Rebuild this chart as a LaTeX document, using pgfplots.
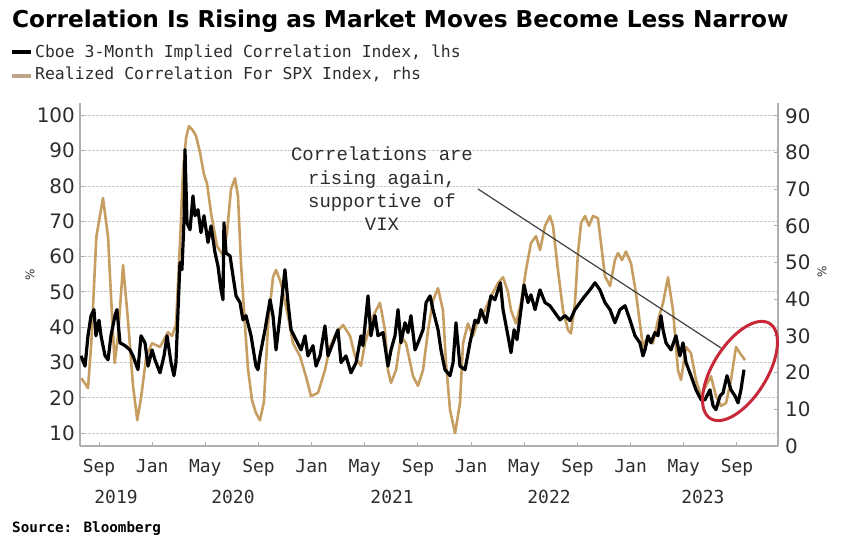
\documentclass[border=0pt]{standalone}
\usepackage{pgfplots}
\pgfplotsset{compat=1.18}
\usepackage{fontspec}
\setmainfont{DejaVu Sans}
\newfontfamily\ttlfont{DejaVu Sans}
\newfontfamily\legfont{DejaVu Sans Mono}
\newfontfamily\numfont{DejaVu Sans}
\newfontfamily\annfont{Liberation Mono}
\definecolor{gold}{RGB}{198,158,98}
\definecolor{goldleg}{RGB}{190,165,135}
\definecolor{gridc}{RGB}{205,205,205}
\definecolor{axc}{RGB}{175,175,175}
\definecolor{ellred}{RGB}{200,40,55}
\definecolor{txt}{RGB}{45,45,45}

\pgfplotstableread{
m v
6.67 18.5
7.17 15.8
7.42 28
7.80 57
8.30 67.6
8.68 57
8.93 39
9.18 22.6
9.43 30
9.81 49.3
10.18 34.3
10.56 16.4
10.88 7
11.18 13.6
11.56 24.5
11.99 28
12.59 27
13.19 31
13.49 30
13.79 33
14.09 55
14.32 75
14.55 84
14.77 87.2
15.07 86
15.30 84.5
15.60 80
15.90 74
16.13 71.5
16.43 63.5
16.88 54.5
17.33 52
17.63 58
17.93 70
18.23 73
18.46 68
18.68 50
18.98 33
19.21 21
19.51 12.5
19.81 9
20.11 7
20.41 12
20.72 33
21.09 46
21.32 48
21.69 44.4
22.22 35.4
22.60 28
23.12 24.5
23.57 19
23.95 13.6
24.48 14.5
25.00 20.7
25.38 27
25.83 30.7
26.36 33
26.89 30
27.26 24.5
27.71 21.8
28.01 28
28.62 35.4
29.14 39
29.52 31.6
29.74 20.7
29.97 17.2
30.35 20.7
30.72 30
31.10 28
31.63 19
32.00 16.4
32.38 20.7
32.76 31.6
33.13 39.7
33.51 43
33.88 37
34.11 22.6
34.41 9.8
34.79 3.5
35.16 11.7
35.39 28
35.76 33.4
36.14 30
36.52 34.3
37.04 37
37.49 40.8
38.02 44.4
38.40 46
38.77 42
39.00 37
39.37 33.4
39.75 39
40.13 48
40.50 55.3
40.88 57.2
41.18 53.4
41.56 60
41.93 62.7
42.16 60
42.53 48
42.91 37
43.29 31.6
43.51 30.7
43.81 39
44.04 52.6
44.27 60.8
44.57 62.7
44.87 60
45.17 62.7
45.54 62.1
45.77 55.3
46.07 46.3
46.45 43.6
46.82 50.7
47.05 52.6
47.35 50.7
47.65 53
48.03 49.8
48.40 41.7
48.93 27
49.31 30
49.68 28
50.06 34.3
50.44 39
50.81 46
51.19 37
51.56 20.7
51.79 18
52.17 27
52.54 25.3
52.92 18
53.30 13.6
53.67 16.4
54.05 19
54.42 13.6
54.80 10.9
55.18 11.7
55.55 18
55.93 27
56.23 25.3
56.61 23.4
}\realized

\pgfplotstableread{
m v
6.65 31.9
6.95 29
7.17 37.6
7.40 43.3
7.62 45
7.77 37.6
8.00 42
8.15 37.6
8.45 32
8.68 30.8
8.90 37.6
9.20 43.3
9.35 45
9.58 35.6
9.96 34.8
10.33 33.6
10.56 31.9
10.93 28
11.16 37.6
11.46 35.6
11.69 29
11.99 33.6
12.21 30.8
12.59 27.1
12.89 31.9
13.12 37.6
13.42 30
13.64 26.3
13.79 30
14.09 58.3
14.24 56.3
14.40 70.5
14.47 90.3
14.62 69.6
14.85 67.6
15.07 77.2
15.22 71.6
15.45 73.3
15.67 66.8
15.90 71.6
16.20 64
16.43 68.7
16.73 61.1
16.95 57.4
17.18 50.6
17.33 47.8
17.40 69.6
17.56 61
17.86 60.2
18.08 54.6
18.31 48.9
18.61 47
18.83 42.1
19.06 43.3
19.44 37.6
19.81 29
19.96 28
20.11 31.9
20.49 39.3
20.87 47.8
21.09 43.3
21.32 33.6
21.62 43.3
21.99 56.3
22.22 47
22.45 39.3
22.82 36.5
23.20 33.6
23.50 37.6
23.72 31.9
24.10 34.8
24.33 29
24.63 31.9
25.00 40.4
25.23 31.9
25.61 35.6
25.98 39.3
26.21 30
26.58 31.9
26.96 27.1
27.34 30
27.71 37.6
27.86 34.8
28.24 48.9
28.46 37.6
28.77 43.3
28.99 37.6
29.37 38.5
29.74 29
29.97 33.6
30.27 37.6
30.50 45
30.72 35.6
31.02 41.3
31.25 38.5
31.47 43.3
31.78 33.6
32.00 35.6
32.38 39.3
32.61 47
32.91 48.9
33.13 45
33.51 39.3
33.73 33.6
34.03 28
34.41 26.3
34.64 30
34.86 41.3
35.16 29
35.54 28
35.91 35.6
36.29 42
36.52 41.3
36.74 45
37.12 41.3
37.49 48.9
37.79 47.8
38.02 50.6
38.20 52.6
38.40 45
38.77 37.6
39.00 32.8
39.23 39.3
39.45 36.5
39.75 45
39.98 52
40.28 47
40.50 49.2
40.81 45
41.18 50.6
41.56 47
41.93 46.1
42.31 44.1
42.69 42.1
43.06 43.3
43.44 41.9
43.81 45
44.19 47
44.57 48.9
44.94 50.6
45.32 52.6
45.69 50.6
46.07 47
46.45 45
46.82 41.3
47.20 45
47.58 46.1
47.95 42.1
48.33 37.6
48.70 35.6
48.93 31.9
49.08 33.6
49.31 37.6
49.53 35.6
49.83 38.5
50.06 37.6
50.28 43.3
50.44 39.3
50.66 35.6
51.04 33.6
51.41 37.6
51.71 31.9
51.94 35.6
52.17 30
52.54 26.3
52.92 22.3
53.30 19.5
53.60 19.5
53.97 22.3
54.20 17.8
54.42 16.7
54.73 20.6
54.95 21.4
55.25 26.3
55.55 22.3
55.85 20.6
56.08 18.6
56.30 22.3
56.53 28
}\implied

\begin{document}
\begin{tikzpicture}[x=1bp,y=1bp]
\useasboundingbox (0,0) rectangle (848,554);

% left axis with grid and labels (no data)
\begin{axis}[
  at={(80bp,108bp)}, anchor=south west, scale only axis,
  width=698bp, height=343bp,
  xmin=6.57, xmax=59.09, ymin=6.4, ymax=103.5,
  axis x line*=bottom, axis y line*=left,
  axis line style={axc, line width=1.2bp, -},
  xtick={8,12,...,56},
  xticklabels={Sep,Jan,May,Sep,Jan,May,Sep,Jan,May,Sep,Jan,May,Sep},
  extra x ticks={9.28,18.08,30.05,41.86,53.44},
  extra x tick labels={2019,2020,2021,2022,2023},
  extra x tick style={major tick length=0pt, xticklabel style={yshift=-31bp}},
  ytick={10,20,...,100},
  ymajorgrids,
  major grid style={gridc, line width=1bp, dash pattern=on 2.5bp off 1.5bp},
  tick style={axc, line width=1bp}, major tick length=4bp,
  xticklabel style={font=\legfont\fontsize{18}{18}\selectfont, text=txt, anchor=north, inner sep=0pt, yshift=-13bp},
  yticklabel style={font=\numfont\fontsize{20}{20}\selectfont, text=txt, anchor=east, inner sep=0pt, xshift=-5bp},
  /pgf/number format/assume math mode=true,
]
\end{axis}

% right axis: realized correlation
\begin{axis}[
  at={(80bp,108bp)}, anchor=south west, scale only axis,
  width=698bp, height=343bp,
  xmin=6.57, xmax=59.09, ymin=0, ymax=93.5,
  axis y line*=right, axis x line=none,
  axis line style={axc, line width=1.2bp, -},
  ytick={0,10,...,90},
  tick style={axc, line width=1bp}, major tick length=4bp,
  yticklabel style={font=\numfont\fontsize{20}{20}\selectfont, text=txt, anchor=west, inner sep=0pt, xshift=7bp},
  /pgf/number format/assume math mode=true,
]
\addplot[gold, line width=2.6bp, line join=round] table[x=m, y=v] {\realized};
\end{axis}

% left-axis data: implied correlation
\begin{axis}[
  at={(80bp,108bp)}, anchor=south west, scale only axis,
  width=698bp, height=343bp,
  xmin=6.57, xmax=59.09, ymin=6.4, ymax=103.5,
  hide axis,
]
\addplot[black, line width=3.2bp, line join=round] table[x=m, y=v] {\implied};
\end{axis}

% title, legend, source
\node[anchor=base west, inner sep=0pt] at (12,526)
  {\ttlfont\bfseries\fontsize{23.3}{28}\selectfont Correlation Is Rising as Market Moves Become Less Narrow};
\draw[black, line width=3.5bp] (12,502) -- (31,502);
\node[anchor=base west, inner sep=0pt, text=txt] at (35,496)
  {\legfont\fontsize{16.5}{18}\selectfont Cboe 3-Month Implied Correlation Index, lhs};
\draw[goldleg, line width=3.5bp] (12,478) -- (31,478);
\node[anchor=base west, inner sep=0pt, text=txt] at (35,474)
  {\legfont\fontsize{16.5}{18}\selectfont Realized Correlation For SPX Index, rhs};
\node[anchor=base west, inner sep=0pt, text=black] at (12,21)
  {\legfont\bfseries\fontsize{14.3}{16}\selectfont Source: Bloomberg};

% % axis labels
\node[rotate=90, text=txt] at (30,279) {\numfont\fontsize{12}{12}\selectfont\%};
\node[rotate=90, text=txt] at (822,282) {\numfont\fontsize{12}{12}\selectfont\%};

% annotation
\node[align=center, text=txt, inner sep=0pt, font={\annfont\fontsize{19}{23.5}\selectfont}] at (382,365)
  {Correlations are\\rising again,\\supportive of\\VIX};
\draw[black!75, line width=1.2bp] (478,365) -- (721,206);
\draw[ellred, line width=3bp, rotate around={58:(740,183)}] (740,183) ellipse [x radius=56, y radius=27];
\end{tikzpicture}
\end{document}
